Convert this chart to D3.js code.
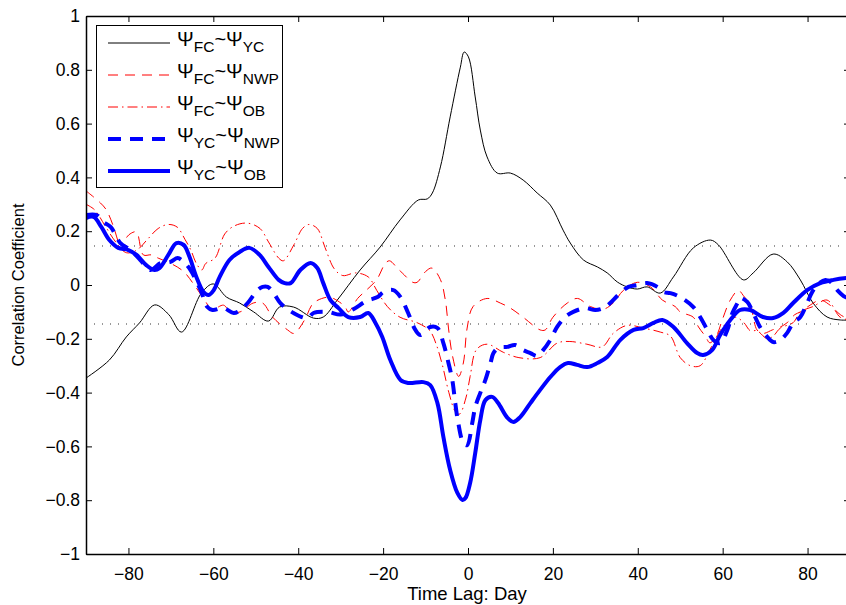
<!DOCTYPE html>
<html><head><meta charset="utf-8">
<script src="https://cdn.jsdelivr.net/npm/d3@7"></script>
<style>
body{margin:0;background:#fff}
svg{display:block}
text{font-family:"Liberation Sans",Arial,Helvetica,sans-serif;fill:#000}
</style>
</head><body>
<svg id="chart" width="846" height="605"></svg>
<script>
// ---------------- data (lag in days, correlation coefficient) ----------------
const xTicks = [-80,-60,-40,-20,0,20,40,60,80];
const xTickLabels = ["\u221280","\u221260","\u221240","\u221220","0","20","40","60","80"];
const yTicks = [-1,-0.8,-0.6,-0.4,-0.2,0,0.2,0.4,0.6,0.8,1];
const yTickLabels = ["\u22121","\u22120.8","\u22120.6","\u22120.4","\u22120.2","0","0.2","0.4","0.6","0.8","1"];
const significance = [0.145,-0.145];

const FC_YC = [[-90,-0.346],[-84.5,-0.279],[-80.5,-0.193],[-77.4,-0.141],[-73.8,-0.074],[-70.5,-0.11],[-67.5,-0.175],
 [-62.8,-0.03],[-60,0.004],[-56.9,-0.045],[-53.8,-0.067],[-50.5,-0.1],[-47,-0.134],[-44.4,-0.082],[-41.1,-0.082],
 [-36.4,-0.123],[-34.1,-0.119],[-30.8,-0.056],[-25.4,0.056],[-20.7,0.141],[-16,0.242],[-11.7,0.316],[-9.6,0.32],
 [-8.4,0.342],[-6.5,0.439],[-4.2,0.625],[-1.8,0.81],[-0.9,0.866],[0.1,0.848],[1.7,0.699],[2.9,0.576],[4.5,0.476],
 [6.9,0.416],[10,0.416],[13,0.39],[16.3,0.342],[19.4,0.297],[22.4,0.204],[24.1,0.156],[27.2,0.093],[30.5,0.067],
 [32.8,0.045],[35.2,0.011],[37.5,-0.007],[39.9,-0.015],[42.2,-0.007],[45.3,-0.03],[48.4,0.03],[53.1,0.138],
 [57.1,0.167],[59,0.149],[64.9,0.019],[67.2,0.045],[71.9,0.115],[75.2,0.086],[78.3,0.019],[81.3,-0.067],
 [84.6,-0.119],[87.7,-0.13],[90,-0.13]];

const FC_NWP = [[-90,0.35],[-86.6,0.305],[-85.2,0.279],[-83.5,0.216],[-82.1,0.149],[-81.2,0.13],[-80.5,0.175],
 [-79.3,0.193],[-78.1,0.197],[-76.5,0.112],[-74.6,0.112],[-73,0.1],[-70,0.08],[-67,0.05],[-64.5,0],[-61.6,-0.067],
 [-60.5,-0.093],[-57.6,-0.075],[-56,-0.1],[-53.7,-0.1],[-50.6,-0.067],[-48.4,-0.067],[-46,-0.12],[-42.5,-0.167],
 [-41,-0.18],[-38.5,-0.13],[-36.4,-0.067],[-33,-0.045],[-31.7,-0.05],[-29,-0.08],[-28.2,-0.1],[-26,-0.05],[-24,-0.02],
 [-21.5,0.02],[-19.5,0.08],[-18.5,0.09],[-16.5,0.06],[-15.5,0.045],[-13,0.01],[-12,0.01],[-10,0.05],[-8.5,0.063],
 [-6.5,0.02],[-5.3,-0.06],[-4.6,-0.16],[-3.7,-0.26],[-2.2,-0.34],[-1.1,-0.29],[-0.2,-0.16],[1.2,-0.08],[4.5,-0.05],
 [7.6,-0.067],[10,-0.086],[13,-0.12],[17,-0.167],[18.2,-0.167],[20,-0.12],[23.4,-0.067],[25.8,-0.05],[28.8,-0.08],
 [31.9,-0.09],[34.2,-0.067],[36.6,-0.02],[39.9,0.01],[43,-0.007],[45.8,-0.056],[48.8,-0.08],[50,-0.1],[53.1,-0.12],
 [54.3,-0.156],[55.9,-0.19],[57,-0.215],[58.5,-0.19],[59.9,-0.13],[61.8,-0.056],[63.7,-0.02],[64.9,-0.04],
 [66.5,-0.075],[68.1,-0.167],[69.5,-0.18],[71.7,-0.167],[73.6,-0.156],[75.2,-0.14],[77,-0.11],[78.3,-0.1],
 [80.6,-0.075],[83,-0.056],[85.3,-0.075],[87.7,-0.11],[90,-0.13]];

const FC_OB = [[-90,0.3],[-88,0.28],[-85.5,0.22],[-83,0.16],[-80.5,0.12],[-78,0.13],[-75.5,0.17],[-73,0.21],
 [-70.6,0.225],[-68.5,0.215],[-66.7,0.17],[-65.3,0.13],[-64,0.08],[-62.7,0.056],[-61.8,0.08],[-59.6,0.1],
 [-57.3,0.19],[-55,0.22],[-52,0.23],[-49,0.21],[-47,0.16],[-44.6,0.1],[-43.5,0.09],[-41,0.15],[-39,0.21],
 [-37.5,0.225],[-35.5,0.21],[-33.7,0.14],[-31.5,0.06],[-29.5,0.035],[-26.5,0.045],[-23.5,0.03],[-21.5,-0.02],
 [-19,-0.08],[-16,-0.12],[-12,-0.14],[-9,-0.17],[-7.5,-0.22],[-6,-0.3],[-4.5,-0.4],[-3,-0.47],[-2,-0.48],
 [-0.5,-0.42],[0.5,-0.34],[2,-0.24],[4.5,-0.22],[8.3,-0.25],[12,-0.27],[17,-0.27],[21,-0.216],[24,-0.21],
 [28,-0.22],[31.6,-0.23],[34.2,-0.18],[37.5,-0.15],[41.3,-0.16],[45.3,-0.175],[47.7,-0.19],[50,-0.27],
 [52.4,-0.3],[54.7,-0.3],[57,-0.24],[59.4,-0.17],[61,-0.14],[63,-0.12],[65,-0.14],[66.5,-0.17],[68.1,-0.17],
 [70.5,-0.2],[71.9,-0.19],[73.6,-0.16],[76.6,-0.14],[78.3,-0.1],[81.3,-0.08],[84.6,-0.056],[87.7,-0.12],[90,-0.13]];

const YC_NWP = [[-90,0.26],[-87.5,0.26],[-85.9,0.234],[-84.2,0.216],[-81.9,0.156],[-79.5,0.13],[-77.2,0.093],
 [-74.8,0.056],[-72.4,0.082],[-70.1,0.086],[-68.4,0.1],[-67,0.086],[-65.4,0.056],[-63,-0.019],[-61.4,-0.082],
 [-60.2,-0.093],[-57.6,-0.086],[-55.2,-0.104],[-53.6,-0.093],[-51.9,-0.067],[-49.6,-0.019],[-48.4,-0.007],
 [-47.2,-0.007],[-45.8,-0.03],[-44.2,-0.067],[-41.1,-0.104],[-37.8,-0.123],[-36.4,-0.104],[-33,-0.1],[-30,-0.11],
 [-27,-0.09],[-24,-0.06],[-21.3,-0.045],[-19.9,-0.026],[-17.6,-0.019],[-15.9,-0.045],[-14.1,-0.104],[-12.4,-0.167],
 [-11.2,-0.186],[-8.9,-0.156],[-7.2,-0.16],[-5.8,-0.216],[-4.6,-0.29],[-3.7,-0.353],[-3,-0.439],[-2.3,-0.513],
 [-1.1,-0.587],[-0.2,-0.595],[1,-0.513],[1.7,-0.454],[2.9,-0.401],[4.1,-0.353],[5.3,-0.29],[6,-0.253],[7.1,-0.234],
 [9.3,-0.23],[11.1,-0.223],[13,-0.242],[14.7,-0.253],[16.3,-0.264],[17.7,-0.242],[19.4,-0.204],[21,-0.156],
 [22.9,-0.119],[24.8,-0.1],[27.6,-0.086],[30,-0.093],[31.9,-0.086],[33.5,-0.067],[35.4,-0.037],[37.8,-0.007],
 [39.9,0],[42.2,0.007],[44.6,-0.007],[46,-0.026],[47.7,-0.03],[50,-0.045],[53.1,-0.082],[54.7,-0.119],
 [56.4,-0.167],[57.8,-0.204],[59.4,-0.216],[61.1,-0.167],[62.3,-0.104],[63.5,-0.067],[64.1,-0.048],[65.8,-0.063],
 [67.2,-0.104],[68.8,-0.156],[70.5,-0.193],[71.9,-0.212],[73.6,-0.204],[75.2,-0.178],[76.6,-0.141],[78.3,-0.119],
 [79.9,-0.067],[81.1,-0.026],[82.3,0],[84.2,0.019],[85.8,0.007],[87,-0.019],[88.9,-0.045],[90,-0.05]];

const YC_OB = [[-90,0.249],[-88.2,0.253],[-86.4,0.216],[-84.5,0.167],[-82.4,0.138],[-80,0.13],[-78.1,0.112],
 [-75.8,0.074],[-73.9,0.056],[-72.7,0.063],[-70.6,0.112],[-68.7,0.156],[-67,0.149],[-65.6,0.104],[-64,0.03],
 [-62.3,-0.026],[-61.1,-0.037],[-59.9,-0.019],[-58.5,0.03],[-56.2,0.093],[-53.8,0.123],[-51.5,0.138],[-49.1,0.112],
 [-47,0.067],[-44.6,0.019],[-43.2,0.007],[-41.8,0.007],[-39.5,0.056],[-37.1,0.082],[-35.5,0.063],[-34.1,0.007],
 [-32.4,-0.056],[-30.5,-0.086],[-28.2,-0.119],[-25.4,-0.119],[-23.5,-0.104],[-21.8,-0.141],[-20.2,-0.193],
 [-18.3,-0.279],[-15.9,-0.353],[-14.1,-0.364],[-10.5,-0.361],[-8.9,-0.372],[-7.2,-0.439],[-5.8,-0.565],
 [-4.2,-0.688],[-2.5,-0.773],[-1.3,-0.799],[-0.6,-0.792],[0.5,-0.736],[1.7,-0.625],[2.9,-0.502],[4.1,-0.428],
 [5.7,-0.416],[7.1,-0.439],[9.3,-0.494],[10.7,-0.509],[12.3,-0.491],[14.7,-0.439],[17,-0.39],[19.4,-0.342],
 [21.7,-0.305],[23.6,-0.29],[25.7,-0.297],[28.1,-0.305],[30.5,-0.29],[32.8,-0.268],[35.9,-0.204],[39,-0.167],
 [41.3,-0.16],[43.7,-0.141],[45.8,-0.13],[48.4,-0.156],[51.6,-0.216],[54,-0.253],[55.4,-0.26],[57.5,-0.242],
 [59.4,-0.186],[61.8,-0.13],[64.1,-0.093],[66.5,-0.093],[69.5,-0.119],[71.9,-0.123],[74.3,-0.104],[76.6,-0.067],
 [79.9,-0.019],[83,0.007],[86.1,0.019],[89.1,0.026],[90,0.027]];

const seriesNames = [["FC","YC"],["FC","NWP"],["FC","OB"],["YC","NWP"],["YC","OB"]];
const seriesData = [FC_YC, FC_NWP, FC_OB, YC_NWP, YC_OB];

// ---------------- styles ----------------
const styles = [
  {color:"#000000", width:1,   dash:null},
  {color:"#ff0000", width:1,   dash:"10,7"},
  {color:"#ff0000", width:1,   dash:"10,4,1.5,4"},
  {color:"#0000ff", width:4,   dash:"13,9"},
  {color:"#0000ff", width:4,   dash:null}
];

// ---------------- chart ----------------
const W = 846, H = 605;
const L = 86, R = 850, T = 16, B = 554;
const x = d3.scaleLinear().domain([-90,90]).range([L,R]);
const y = d3.scaleLinear().domain([-1,1]).range([B,T]);
const svg = d3.select("#chart");
svg.append("rect").attr("width",W).attr("height",H).attr("fill","#fff");

svg.append("clipPath").attr("id","plotclip").append("rect")
  .attr("x",L).attr("y",T).attr("width",R-L).attr("height",B-T);

// dotted significance lines
svg.append("g").selectAll("line").data(significance).join("line")
  .attr("x1",x(-90)).attr("x2",x(90))
  .attr("y1",d=>y(d)).attr("y2",d=>y(d))
  .attr("stroke","#333").attr("stroke-width",1).attr("stroke-dasharray","1,7");

const line = d3.line().x(d=>x(d[0])).y(d=>y(d[1])).curve(d3.curveCatmullRom.alpha(0.5));
const plot = svg.append("g").attr("clip-path","url(#plotclip)");
seriesData.forEach((data,i)=>{
  const s = styles[i];
  plot.append("path").datum(data).attr("d",line)
    .attr("fill","none").attr("stroke",s.color).attr("stroke-width",s.width)
    .attr("stroke-dasharray",s.dash).attr("stroke-linejoin","round");
});

// axes (MATLAB style: ticks inside, box)
function styleAxis(g){
  g.selectAll(".domain").attr("stroke","#000").attr("stroke-width",1.5);
  g.selectAll(".tick line").attr("stroke","#000").attr("stroke-width",1);
  g.selectAll("text").attr("font-size",17.5).attr("font-family","Liberation Sans, Arial, sans-serif");
}
svg.append("g").attr("transform",`translate(0,${B})`)
  .call(d3.axisBottom(x).tickValues(xTicks).tickFormat((d,i)=>xTickLabels[i]).tickSize(-6).tickSizeOuter(0).tickPadding(14))
  .call(styleAxis);
svg.append("g").attr("transform",`translate(0,${T})`)
  .call(d3.axisTop(x).tickValues(xTicks).tickFormat("").tickSize(-6).tickSizeOuter(0))
  .call(styleAxis);
svg.append("g").attr("transform",`translate(${L},0)`)
  .call(d3.axisLeft(y).tickValues(yTicks).tickFormat((d,i)=>yTickLabels[i]).tickSize(-6).tickSizeOuter(0).tickPadding(6))
  .call(styleAxis);
svg.append("g").attr("transform",`translate(${R},0)`)
  .call(d3.axisRight(y).tickValues(yTicks).tickFormat("").tickSize(-6).tickSizeOuter(0))
  .call(styleAxis);

// axis titles
svg.append("text").attr("x",(x(-90)+x(90))/2 - 1).attr("y",600)
  .attr("text-anchor","middle").attr("font-size",18.5).text("Time Lag: Day");
svg.append("text").attr("transform",`translate(24,${y(0)}) rotate(-90)`)
  .attr("text-anchor","middle").attr("font-size",16.5).text("Correlation Coefficient");

// legend
const lg = svg.append("g");
lg.append("rect").attr("x",96.5).attr("y",25.5).attr("width",186).attr("height",162)
  .attr("fill","#fff").attr("stroke","#000").attr("stroke-width",1);
seriesNames.forEach((nm,i)=>{
  const yy = 43 + i*32;
  const s = styles[i];
  lg.append("line").attr("x1",108).attr("x2",170).attr("y1",yy).attr("y2",yy)
    .attr("stroke",s.color).attr("stroke-width",s.width).attr("stroke-dasharray",s.dash);
  const t = lg.append("text").attr("x",177).attr("y",yy+3).attr("font-size",20);
  t.append("tspan").text("\u03A8");
  t.append("tspan").attr("font-size",15.5).attr("dy",6).text(nm[0]);
  t.append("tspan").attr("dy",-6).text("~\u03A8");
  t.append("tspan").attr("font-size",15.5).attr("dy",6).text(nm[1]);
});
</script>
</body></html>
